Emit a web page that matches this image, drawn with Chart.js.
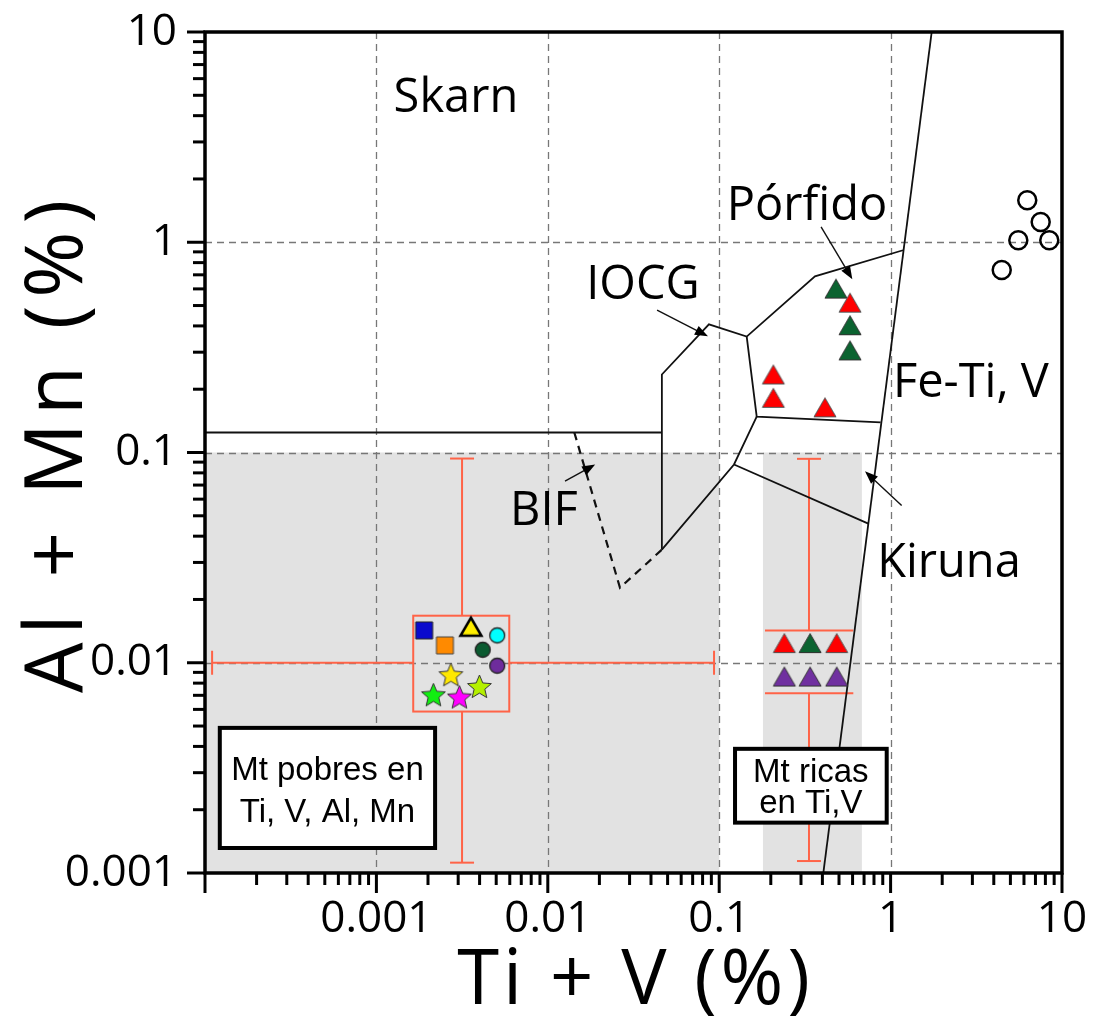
<!DOCTYPE html>
<html>
<head>
<meta charset="utf-8">
<title>Ti + V vs Al + Mn</title>
<script src="https://cdn.jsdelivr.net/npm/chart.js@4.4.1/dist/chart.umd.min.js"></script>
<style>
  html, body { margin: 0; padding: 0; background: #fff; }
  #wrap { width: 1110px; height: 1019px; }
</style>
</head>
<body>
<div id="wrap"><canvas id="diagram" width="1110" height="1019"></canvas></div>
<script>
// ---- axis ticks ----
var xTickValues = [0.0001, 0.001, 0.01, 0.1, 1, 10];
var xTickLabels = ['', '0.001', '0.01', '0.1', '1', '10'];
var yTickValues = [0.001, 0.01, 0.1, 1, 10];
var yTickLabels = ['0.001', '0.01', '0.1', '1', '10'];
var xTitle = 'Ti + V (%)';
var yTitle = 'Al + Mn (%)';

// ---- magnetite poor in Ti, V, Al, Mn (one point per symbol) ----
var poorNames = ['sq azul', 'sq naranja', 'tri amarillo', 'circ cian', 'circ verde', 'circ morado',
                 'estrella amarilla', 'estrella verde', 'estrella magenta', 'estrella lima'];
var poorX = [0.00190, 0.00251, 0.00356, 0.00507, 0.00417, 0.00507, 0.00272, 0.00215, 0.00305, 0.00399];
var poorY = [0.01425, 0.01209, 0.01484, 0.01349, 0.01153, 0.00968, 0.00877, 0.00704, 0.00687, 0.00771];
// mean and spread of that group
var poorMeanX = [0.00316];
var poorMeanY = [0.0100];
var poorRangeX = [0.00011, 0.0933];
var poorRangeY = [0.00112, 0.0936];
var poorBoxX = [0.00164, 0.00596];
var poorBoxY = [0.00586, 0.01674];

// ---- magnetite rich in Ti, V ----
var richRedX = [0.240, 0.485];
var richRedY = [0.0124, 0.0124];
var richGreenX = [0.339];
var richGreenY = [0.0124];
var richPurpleX = [0.240, 0.339, 0.485];
var richPurpleY = [0.0086, 0.0086, 0.0086];
var richMeanX = [0.334];
var richRangeY = [0.00114, 0.0933];
var richBoxX = [0.185, 0.606];
var richBoxY = [0.00717, 0.01425];

// ---- porphyry field samples ----
var porfRedX = [0.580, 0.207, 0.207, 0.414];
var porfRedY = [0.516, 0.235, 0.182, 0.164];
var porfGreenX = [0.480, 0.580, 0.580];
var porfGreenY = [0.602, 0.403, 0.306];

// ---- Fe-Ti, V field samples ----
var feTiX = [6.27, 7.51, 5.56, 8.43, 4.45];
var feTiY = [1.585, 1.249, 1.022, 1.022, 0.738];

// ---- field boundaries ----
var bifTopX = [0.0001, 0.0463];
var bifTopY = [0.1245, 0.1245];
var iocgUpX = [0.0463, 0.0463, 0.0871, 0.1447, 0.362, 1.181];
var iocgUpY = [0.0345, 0.235, 0.407, 0.356, 0.689, 0.916];
var porfLowX = [0.1447, 0.1655, 0.875];
var porfLowY = [0.356, 0.148, 0.139];
var iocgLowX = [0.1655, 0.122, 0.0463];
var iocgLowY = [0.148, 0.0877, 0.0345];
var kirunaX = [0.122, 0.741];
var kirunaY = [0.0877, 0.0459];
var feTiLineX = [1.737, 0.405];
var feTiLineY = [10, 0.001];
var bifX = [0.01428, 0.02637, 0.0463];
var bifY = [0.1245, 0.02275, 0.0345];

// ---- shaded fields ----
var shadePoorX = [0.0001, 0.1];
var shadeRichX = [0.18, 0.68];
var shadeY = [0.001, 0.1];

// ---- labels and arrows ----
var fieldNames = ['Skarn', 'Pórfido', 'IOCG', 'Fe-Ti, V', 'BIF', 'Kiruna'];
var fieldX = [0.00291, 0.325, 0.0359, 2.94, 0.0095, 2.19];
var fieldY = [4.16, 1.27, 0.536, 0.183, 0.0454, 0.0257];
var arrowFromX = [0.0434, 0.393, 0.0126, 1.16];
var arrowFromY = [0.475, 1.183, 0.073, 0.0560];
var arrowToX = [0.086, 0.598, 0.0189, 0.709];
var arrowToY = [0.357, 0.667, 0.0877, 0.0815];

var boxPoorText = ['Mt pobres en', 'Ti, V, Al, Mn'];
var boxPoorX = [0.000122, 0.0022];
var boxPoorY = [0.001315, 0.0049];
var boxRichText = ['Mt ricas', 'en Ti,V'];
var boxRichX = [0.1237, 0.949];
var boxRichY = [0.001736, 0.003896];

function pts(xs, ys) {
    return xs.map(function (x, i) { return { x: x, y: ys[i] }; });
}

// small canvases used as point symbols
function marker(shape, fill, stroke, lw, w, h) {
    h = h || w;
    var c = document.createElement('canvas');
    var s = Math.ceil(Math.max(w, h) + lw * 2 + 4);
    c.width = s; c.height = s;
    var g = c.getContext('2d');
    var m = s / 2, r = w / 2;
    g.beginPath();
    if (shape === 'square') {
        g.rect(m - r, m - h / 2, w, h);
    } else if (shape === 'circle') {
        g.arc(m, m, r, 0, Math.PI * 2);
    } else if (shape === 'triangle') {
        g.moveTo(m, m - h / 2);
        g.lineTo(m + r, m + h / 2);
        g.lineTo(m - r, m + h / 2);
        g.closePath();
    } else if (shape === 'star') {
        for (var i = 0; i < 10; i++) {
            var rr = i % 2 ? r * 0.45 : r;
            var a = -Math.PI / 2 + i * Math.PI / 5;
            g.lineTo(m + rr * Math.cos(a), m + rr * Math.sin(a) + r * 0.08);
        }
        g.closePath();
    }
    if (fill) { g.fillStyle = fill; g.fill(); }
    if (lw) { g.lineWidth = lw; g.strokeStyle = stroke; g.lineJoin = 'miter'; g.stroke(); }
    return c;
}

var poorMarkers = [
    marker('square', '#0a0acd', '#222', 1, 17),
    marker('square', '#ff8a00', '#444', 1, 17),
    marker('triangle', '#ffee00', '#000', 2.5, 21, 18),
    marker('circle', '#00ffff', '#222', 1.3, 15),
    marker('circle', '#0b5a30', '#222', 1.3, 15),
    marker('circle', '#6e2c9c', '#222', 1.3, 15),
    marker('star', '#ffe800', '#333', 1, 25),
    marker('star', '#11ee11', '#333', 1, 25),
    marker('star', '#ff00ff', '#333', 1, 25),
    marker('star', '#b4f000', '#333', 1, 25)
];
var redTri = marker('triangle', '#ff0000', '#555', 1, 22, 19);
var greenTri = marker('triangle', '#0b6330', '#333', 1, 22, 19);
var purpleTri = marker('triangle', '#7030a0', '#333', 1, 22, 19);

function symbolSet(data, style) {
    return { data: data, pointStyle: style, pointRadius: 10, showLine: false };
}
function boundary(xs, ys, dash) {
    return {
        data: pts(xs, ys), showLine: true, pointRadius: 0, fill: false,
        borderColor: '#111', borderWidth: dash ? 2.2 : 1.8, borderDash: dash || []
    };
}

var orange = '#ff6347';

function line(ctx, x0, y0, x1, y1) {
    ctx.beginPath(); ctx.moveTo(x0, y0); ctx.lineTo(x1, y1); ctx.stroke();
}

var fieldsPlugin = {
    id: 'fields',
    beforeDatasetsDraw: function (chart) {
        var ctx = chart.ctx, a = chart.chartArea, x = chart.scales.x, y = chart.scales.y;
        ctx.save();
        // gray fields
        ctx.fillStyle = '#e2e2e2';
        [shadePoorX, shadeRichX].forEach(function (sx) {
            var l = x.getPixelForValue(sx[0]), r = x.getPixelForValue(sx[1]);
            var t = y.getPixelForValue(shadeY[1]), b = y.getPixelForValue(shadeY[0]);
            ctx.fillRect(l, t, r - l, b - t);
        });
        // dashed decade grid
        ctx.strokeStyle = '#777';
        ctx.lineWidth = 1.3;
        ctx.setLineDash([7, 5]);
        xTickValues.slice(1, -1).forEach(function (v) {
            var px = Math.round(x.getPixelForValue(v)) + 0.5;
            line(ctx, px, a.top, px, a.bottom);
        });
        yTickValues.slice(1, -1).forEach(function (v) {
            var py = Math.round(y.getPixelForValue(v)) + 0.5;
            line(ctx, a.left, py, a.right, py);
        });
        ctx.setLineDash([]);

        // spread of the Ti-V poor group
        ctx.strokeStyle = orange;
        ctx.lineWidth = 2;
        var cx = x.getPixelForValue(poorMeanX[0]), cy = y.getPixelForValue(poorMeanY[0]);
        var bl = x.getPixelForValue(poorBoxX[0]), br = x.getPixelForValue(poorBoxX[1]);
        var bt = y.getPixelForValue(poorBoxY[1]), bb = y.getPixelForValue(poorBoxY[0]);
        var xl = x.getPixelForValue(poorRangeX[0]), xr = x.getPixelForValue(poorRangeX[1]);
        var yt = y.getPixelForValue(poorRangeY[1]), yb = y.getPixelForValue(poorRangeY[0]);
        var cap = 12;
        ctx.strokeRect(bl, bt, br - bl, bb - bt);
        line(ctx, xl, cy, bl, cy); line(ctx, br, cy, xr, cy);
        line(ctx, cx, yt, cx, bt); line(ctx, cx, bb, cx, yb);
        line(ctx, xl, cy - cap, xl, cy + cap); line(ctx, xr, cy - cap, xr, cy + cap);
        line(ctx, cx - cap, yt, cx + cap, yt); line(ctx, cx - cap, yb, cx + cap, yb);

        // spread of the Ti-V rich group
        cx = x.getPixelForValue(richMeanX[0]);
        bl = x.getPixelForValue(richBoxX[0]); br = x.getPixelForValue(richBoxX[1]);
        bt = y.getPixelForValue(richBoxY[1]); bb = y.getPixelForValue(richBoxY[0]);
        yt = y.getPixelForValue(richRangeY[1]); yb = y.getPixelForValue(richRangeY[0]);
        line(ctx, bl, bt, br, bt); line(ctx, bl, bb, br, bb);
        line(ctx, cx, yt, cx, bt); line(ctx, cx, bb, cx, yb);
        line(ctx, cx - cap, yt, cx + cap, yt); line(ctx, cx - cap, yb, cx + cap, yb);
        ctx.restore();
    },
    afterDatasetsDraw: function (chart) {
        var ctx = chart.ctx, x = chart.scales.x, y = chart.scales.y;
        ctx.save();
        // field names
        ctx.fillStyle = '#000';
        ctx.font = '47px "Open Sans"';
        ctx.textAlign = 'center';
        ctx.textBaseline = 'alphabetic';
        fieldNames.forEach(function (name, i) {
            ctx.fillText(name, x.getPixelForValue(fieldX[i]), y.getPixelForValue(fieldY[i]));
        });
        // arrows
        ctx.strokeStyle = '#111';
        ctx.lineWidth = 1.4;
        arrowFromX.forEach(function (v, i) {
            var x0 = x.getPixelForValue(v), y0 = y.getPixelForValue(arrowFromY[i]);
            var x1 = x.getPixelForValue(arrowToX[i]), y1 = y.getPixelForValue(arrowToY[i]);
            var ang = Math.atan2(y1 - y0, x1 - x0), L = 13, W = 5;
            line(ctx, x0, y0, x1 - 8 * Math.cos(ang), y1 - 8 * Math.sin(ang));
            ctx.beginPath();
            ctx.moveTo(x1, y1);
            ctx.lineTo(x1 - L * Math.cos(ang) + W * Math.sin(ang), y1 - L * Math.sin(ang) - W * Math.cos(ang));
            ctx.lineTo(x1 - L * Math.cos(ang) - W * Math.sin(ang), y1 - L * Math.sin(ang) + W * Math.cos(ang));
            ctx.closePath();
            ctx.fill();
        });
        // text boxes
        ctx.font = '33px "Liberation Sans", Arial';
        ctx.lineWidth = 4;
        ctx.strokeStyle = '#000';
        [[boxPoorX, boxPoorY, boxPoorText, [52, 94]], [boxRichX, boxRichY, boxRichText, [33, 64]]].forEach(function (b) {
            var l = x.getPixelForValue(b[0][0]), r = x.getPixelForValue(b[0][1]);
            var t = y.getPixelForValue(b[1][1]), bt = y.getPixelForValue(b[1][0]);
            ctx.fillStyle = '#fff';
            ctx.fillRect(l, t, r - l, bt - t);
            ctx.strokeRect(l, t, r - l, bt - t);
            ctx.fillStyle = '#000';
            b[2].forEach(function (txt, k) {
                ctx.fillText(txt, (l + r) / 2, t + b[3][k]);
            });
        });
        ctx.restore();
    },
    afterDraw: function (chart) {
        var ctx = chart.ctx, a = chart.chartArea, x = chart.scales.x, y = chart.scales.y;
        ctx.save();
        ctx.strokeStyle = '#000';
        ctx.lineWidth = 3;
        // ticks, major and minor, outward
        xTickValues.forEach(function (d, i) {
            var px = x.getPixelForValue(d);
            line(ctx, px, a.bottom, px, a.bottom + 20);
            if (i < xTickValues.length - 1) {
                for (var k = 2; k < 10; k++) {
                    px = x.getPixelForValue(d * k);
                    line(ctx, px, a.bottom, px, a.bottom + 12);
                }
            }
        });
        yTickValues.forEach(function (d, i) {
            var py = y.getPixelForValue(d);
            line(ctx, a.left - 18, py, a.left, py);
            if (i < yTickValues.length - 1) {
                for (var k = 2; k < 10; k++) {
                    py = y.getPixelForValue(d * k);
                    line(ctx, a.left - 12, py, a.left, py);
                }
            }
        });
        ctx.lineWidth = 3.5;
        ctx.strokeRect(a.left, a.top, a.right - a.left, a.bottom - a.top);

        // axis titles
        ctx.fillStyle = '#000';
        ctx.textAlign = 'center';
        ctx.textBaseline = 'alphabetic';
        ctx.font = '76px "Open Sans"';
        ctx.letterSpacing = '4px';
        ctx.fillText(xTitle, (a.left + a.right) / 2 + 2, a.bottom + 131);
        ctx.font = '80px "Open Sans"';
        ctx.letterSpacing = '8px';
        ctx.translate(a.left - 123, (a.top + a.bottom) / 2 - 6);
        ctx.rotate(-Math.PI / 2);
        ctx.fillText(yTitle, 4, 0);
        ctx.restore();
    }
};

var ctx = document.getElementById('diagram').getContext('2d');
var tickFont = { family: 'Open Sans', size: 44 };

window.myChart = new Chart(ctx, {
    type: 'scatter',
    data: {
        datasets: [
            symbolSet(pts(poorX, poorY), poorMarkers),
            symbolSet(pts(porfRedX, porfRedY), redTri),
            symbolSet(pts(porfGreenX, porfGreenY), greenTri),
            symbolSet(pts(richRedX, richRedY), redTri),
            symbolSet(pts(richGreenX, richGreenY), greenTri),
            symbolSet(pts(richPurpleX, richPurpleY), purpleTri),
            {
                data: pts(feTiX, feTiY), pointStyle: 'circle', pointRadius: 9,
                borderColor: '#000', borderWidth: 2.5, backgroundColor: 'rgba(0,0,0,0)'
            },
            boundary(bifTopX, bifTopY),
            boundary(iocgUpX, iocgUpY),
            boundary(porfLowX, porfLowY),
            boundary(iocgLowX, iocgLowY),
            boundary(kirunaX, kirunaY),
            boundary(feTiLineX, feTiLineY),
            boundary(bifX, bifY, [8, 6])
        ]
    },
    options: {
        responsive: false,
        animation: false,
        devicePixelRatio: 1,
        layout: { padding: { top: 32, right: 48, left: 0, bottom: 0 } },
        plugins: {
            legend: { display: false },
            tooltip: { enabled: false }
        },
        scales: {
            x: {
                type: 'logarithmic',
                position: 'bottom',
                min: 0.0001,
                max: 10,
                afterBuildTicks: function (scale) {
                    scale.ticks = xTickValues.map(function (v) { return { value: v }; });
                },
                afterFit: function (scale) {
                    scale.height = 146;
                    scale.paddingLeft = 0;
                    scale.paddingRight = 0;
                },
                ticks: {
                    autoSkip: false, maxRotation: 0, padding: 20, color: '#000', font: tickFont,
                    callback: function (value, index) { return xTickLabels[index]; }
                },
                grid: { display: false, drawTicks: false },
                border: { display: false },
                title: { display: false }
            },
            y: {
                type: 'logarithmic',
                position: 'left',
                min: 0.001,
                max: 10,
                afterBuildTicks: function (scale) {
                    scale.ticks = yTickValues.map(function (v) { return { value: v }; });
                },
                afterFit: function (scale) {
                    scale.width = 205;
                    scale.paddingTop = 0;
                    scale.paddingBottom = 0;
                },
                ticks: {
                    autoSkip: false, padding: 28, color: '#000', font: tickFont,
                    callback: function (value, index) { return yTickLabels[index]; }
                },
                grid: { display: false, drawTicks: false },
                border: { display: false },
                title: { display: false }
            }
        }
    },
    plugins: [fieldsPlugin]
});
</script>
</body>
</html>
